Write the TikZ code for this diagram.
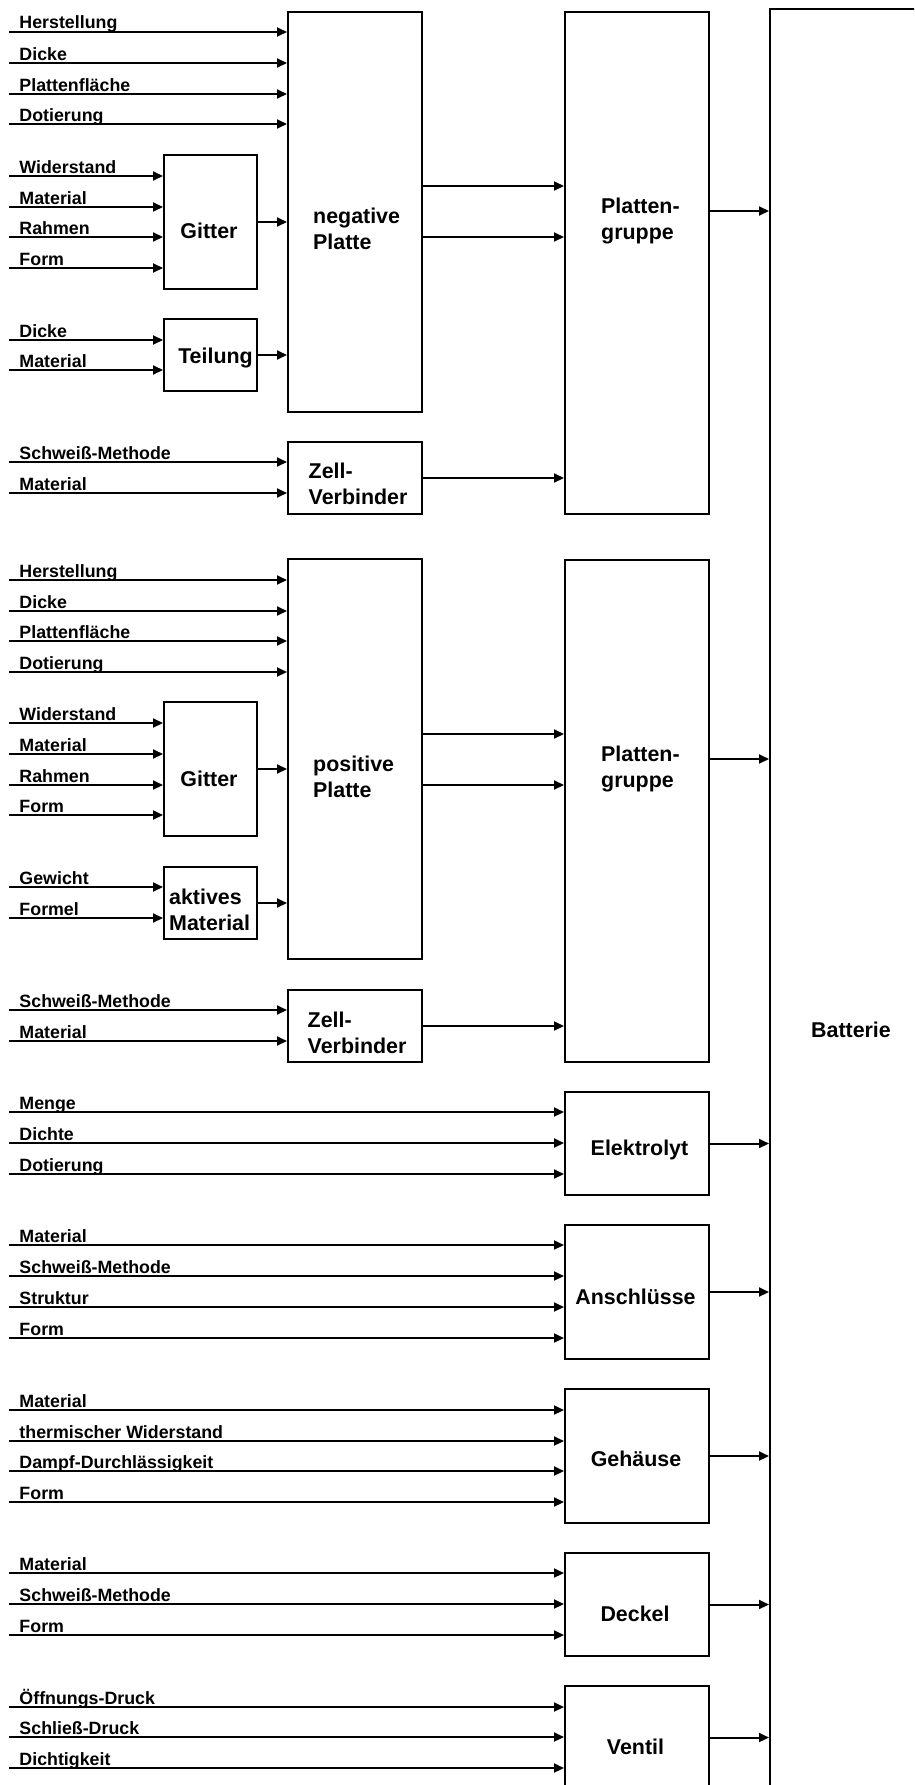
\documentclass[tikz,border=0pt]{standalone}
\usepackage{fontspec}
\setmainfont{Liberation Sans}
\usetikzlibrary{arrows.meta}

\begin{document}
\begin{tikzpicture}[
  x=1pt, y=-1pt,
  blk/.style={draw=black, line width=2pt, inner sep=0pt},
  sbox/.style={blk, minimum width=93},
  mbox/.style={blk, minimum width=134},
  rbox/.style={blk, minimum width=144},
  lbl/.style={font=\bfseries\fontsize{21.4}{25.5}\selectfont, inner sep=0pt, align=left},
  inp/.style={font=\bfseries\fontsize{17.8}{20}\selectfont, inner xsep=10.5pt, inner ysep=3pt, outer sep=0pt, text depth=0pt, anchor=south west},
  arr/.style={-{Triangle[length=10pt,width=9pt]}, line width=2pt},
]

\useasboundingbox (0,0) rectangle (914,1785);
\clip (0,0) rectangle (914,1785);

% Left column
\node[sbox, minimum height=134] (gitA) at (210.5, 222) {};
\node[sbox, minimum height=72] (teil) at (210.5, 355) {};
\node[sbox, minimum height=134] (gitB) at (210.5, 769) {};
\node[sbox, minimum height=72] (aktM) at (210.5, 903) {};
\node[lbl, anchor=base] (gitAT) at (209, 238) {Gitter};
\node[lbl, anchor=base] (teilT) at (215.5, 363) {Teilung};
\node[lbl, anchor=base] (gitBT) at (209, 786) {Gitter};
\node[lbl, anchor=north west] (aktT) at (169, 889) {aktives\\Material};

% Plates and cell connectors
\node[mbox, minimum height=400] (negP) at (355, 212) {};
\node[mbox, minimum height=72] (zvA) at (355, 478) {};
\node[mbox, minimum height=400] (posP) at (355, 759) {};
\node[mbox, minimum height=72] (zvB) at (355, 1026) {};
\node[lbl, anchor=north west] (negT) at (313, 208) {negative\\Platte};
\node[lbl, anchor=north west] (zvAT) at (308.5, 463) {Zell-\\Verbinder};
\node[lbl, anchor=north west] (posT) at (313, 756) {positive\\Platte};
\node[lbl, anchor=north west] (zvBT) at (307.5, 1012) {Zell-\\Verbinder};

% Right column
\node[rbox, minimum height=502] (pgA) at (637, 263) {};
\node[rbox, minimum height=502] (pgB) at (637, 811) {};
\node[rbox, minimum height=103] (elek) at (637, 1143.5) {};
\node[rbox, minimum height=134] (ansc) at (637, 1292) {};
\node[rbox, minimum height=134] (geh) at (637, 1456) {};
\node[rbox, minimum height=103] (deck) at (637, 1604.5) {};
\node[rbox, minimum height=103] (vent) at (637, 1737.5) {};
\node[lbl, anchor=north west] (pgAT) at (601, 198) {Platten-\\gruppe};
\node[lbl, anchor=north west] (pgBT) at (601, 746) {Platten-\\gruppe};
\node[lbl, anchor=base] (elekT) at (639.5, 1155) {Elektrolyt};
\node[lbl, anchor=base] (anscT) at (635.5, 1304) {Anschlüsse};
\node[lbl, anchor=base] (gehT) at (636, 1466.5) {Gehäuse};
\node[lbl, anchor=base] (deckT) at (635, 1621.5) {Deckel};
\node[lbl, anchor=base] (ventT) at (635.5, 1754) {Ventil};

% Battery
\node[blk, minimum width=162, minimum height=2042, font=\bfseries\fontsize{21.4}{25.5}\selectfont] (batt) at (851, 1030) {Batterie};

% Inputs
\node[inp] (nA1) at (9, 32) {Herstellung};
\node[inp] (nA2) at (9, 63) {Dicke};
\node[inp] (nA3) at (9, 94) {Plattenfläche};
\node[inp] (nA4) at (9, 124) {Dotierung};
\node[inp] (gA1) at (9, 176) {Widerstand};
\node[inp] (gA2) at (9, 207) {Material};
\node[inp] (gA3) at (9, 237) {Rahmen};
\node[inp] (gA4) at (9, 268) {Form};
\node[inp] (tA1) at (9, 340) {Dicke};
\node[inp] (tA2) at (9, 370) {Material};
\node[inp] (zA1) at (9, 462) {Schweiß-Methode};
\node[inp] (zA2) at (9, 493) {Material};
\node[inp] (nB1) at (9, 580) {Herstellung};
\node[inp] (nB2) at (9, 611) {Dicke};
\node[inp] (nB3) at (9, 641) {Plattenfläche};
\node[inp] (nB4) at (9, 672) {Dotierung};
\node[inp] (gB1) at (9, 723) {Widerstand};
\node[inp] (gB2) at (9, 754) {Material};
\node[inp] (gB3) at (9, 785) {Rahmen};
\node[inp] (gB4) at (9, 815) {Form};
\node[inp] (aB1) at (9, 887) {Gewicht};
\node[inp] (aB2) at (9, 918) {Formel};
\node[inp] (zB1) at (9, 1010) {Schweiß-Methode};
\node[inp] (zB2) at (9, 1041) {Material};
\node[inp] (el1) at (9, 1112) {Menge};
\node[inp] (el2) at (9, 1143) {Dichte};
\node[inp] (el3) at (9, 1174) {Dotierung};
\node[inp] (an1) at (9, 1245) {Material};
\node[inp] (an2) at (9, 1276) {Schweiß-Methode};
\node[inp] (an3) at (9, 1307) {Struktur};
\node[inp] (an4) at (9, 1338) {Form};
\node[inp] (ge1) at (9, 1410) {Material};
\node[inp] (ge2) at (9, 1441) {thermischer Widerstand};
\node[inp] (ge3) at (9, 1471) {Dampf-Durchlässigkeit};
\node[inp] (ge4) at (9, 1502) {Form};
\node[inp] (de1) at (9, 1573) {Material};
\node[inp] (de2) at (9, 1604) {Schweiß-Methode};
\node[inp] (de3) at (9, 1635) {Form};
\node[inp] (ve1) at (9, 1707) {Öffnungs-Druck};
\node[inp] (ve2) at (9, 1737) {Schließ-Druck};
\node[inp] (ve3) at (9, 1768) {Dichtigkeit};

% Input arrows
\draw[arr] (nA1.south west) -- (nA1.south west -| negP.west);
\draw[arr] (nA2.south west) -- (nA2.south west -| negP.west);
\draw[arr] (nA3.south west) -- (nA3.south west -| negP.west);
\draw[arr] (nA4.south west) -- (nA4.south west -| negP.west);
\draw[arr] (gA1.south west) -- (gA1.south west -| gitA.west);
\draw[arr] (gA2.south west) -- (gA2.south west -| gitA.west);
\draw[arr] (gA3.south west) -- (gA3.south west -| gitA.west);
\draw[arr] (gA4.south west) -- (gA4.south west -| gitA.west);
\draw[arr] (tA1.south west) -- (tA1.south west -| teil.west);
\draw[arr] (tA2.south west) -- (tA2.south west -| teil.west);
\draw[arr] (zA1.south west) -- (zA1.south west -| zvA.west);
\draw[arr] (zA2.south west) -- (zA2.south west -| zvA.west);
\draw[arr] (nB1.south west) -- (nB1.south west -| posP.west);
\draw[arr] (nB2.south west) -- (nB2.south west -| posP.west);
\draw[arr] (nB3.south west) -- (nB3.south west -| posP.west);
\draw[arr] (nB4.south west) -- (nB4.south west -| posP.west);
\draw[arr] (gB1.south west) -- (gB1.south west -| gitB.west);
\draw[arr] (gB2.south west) -- (gB2.south west -| gitB.west);
\draw[arr] (gB3.south west) -- (gB3.south west -| gitB.west);
\draw[arr] (gB4.south west) -- (gB4.south west -| gitB.west);
\draw[arr] (aB1.south west) -- (aB1.south west -| aktM.west);
\draw[arr] (aB2.south west) -- (aB2.south west -| aktM.west);
\draw[arr] (zB1.south west) -- (zB1.south west -| zvB.west);
\draw[arr] (zB2.south west) -- (zB2.south west -| zvB.west);
\draw[arr] (el1.south west) -- (el1.south west -| elek.west);
\draw[arr] (el2.south west) -- (el2.south west -| elek.west);
\draw[arr] (el3.south west) -- (el3.south west -| elek.west);
\draw[arr] (an1.south west) -- (an1.south west -| ansc.west);
\draw[arr] (an2.south west) -- (an2.south west -| ansc.west);
\draw[arr] (an3.south west) -- (an3.south west -| ansc.west);
\draw[arr] (an4.south west) -- (an4.south west -| ansc.west);
\draw[arr] (ge1.south west) -- (ge1.south west -| geh.west);
\draw[arr] (ge2.south west) -- (ge2.south west -| geh.west);
\draw[arr] (ge3.south west) -- (ge3.south west -| geh.west);
\draw[arr] (ge4.south west) -- (ge4.south west -| geh.west);
\draw[arr] (de1.south west) -- (de1.south west -| deck.west);
\draw[arr] (de2.south west) -- (de2.south west -| deck.west);
\draw[arr] (de3.south west) -- (de3.south west -| deck.west);
\draw[arr] (ve1.south west) -- (ve1.south west -| vent.west);
\draw[arr] (ve2.south west) -- (ve2.south west -| vent.west);
\draw[arr] (ve3.south west) -- (ve3.south west -| vent.west);

% Box to box
\draw[arr] (gitA.east) -- (gitA.east -| negP.west);
\draw[arr] (teil.east) -- (teil.east -| negP.west);
\draw[arr] (gitB.east) -- (gitB.east -| posP.west);
\draw[arr] (aktM.east) -- (aktM.east -| posP.west);
\draw[arr] ([yshift=26pt]negP.east) -- ([yshift=77pt]pgA.west);
\draw[arr] ([yshift=-25pt]negP.east) -- ([yshift=26pt]pgA.west);
\draw[arr] (zvA.east) -- (zvA.east -| pgA.west);
\draw[arr] ([yshift=25pt]posP.east) -- ([yshift=77pt]pgB.west);
\draw[arr] ([yshift=-26pt]posP.east) -- ([yshift=26pt]pgB.west);
\draw[arr] (zvB.east) -- (zvB.east -| pgB.west);

% Into the battery
\coordinate (pgAo) at ([yshift=52pt]pgA.east);
\coordinate (pgBo) at ([yshift=52pt]pgB.east);
\draw[arr] (pgAo) -- (pgAo -| batt.west);
\draw[arr] (pgBo) -- (pgBo -| batt.west);
\draw[arr] (elek.east) -- (elek.east -| batt.west);
\draw[arr] (ansc.east) -- (ansc.east -| batt.west);
\draw[arr] (geh.east) -- (geh.east -| batt.west);
\draw[arr] (deck.east) -- (deck.east -| batt.west);
\draw[arr] (vent.east) -- (vent.east -| batt.west);

\end{tikzpicture}
\end{document}
